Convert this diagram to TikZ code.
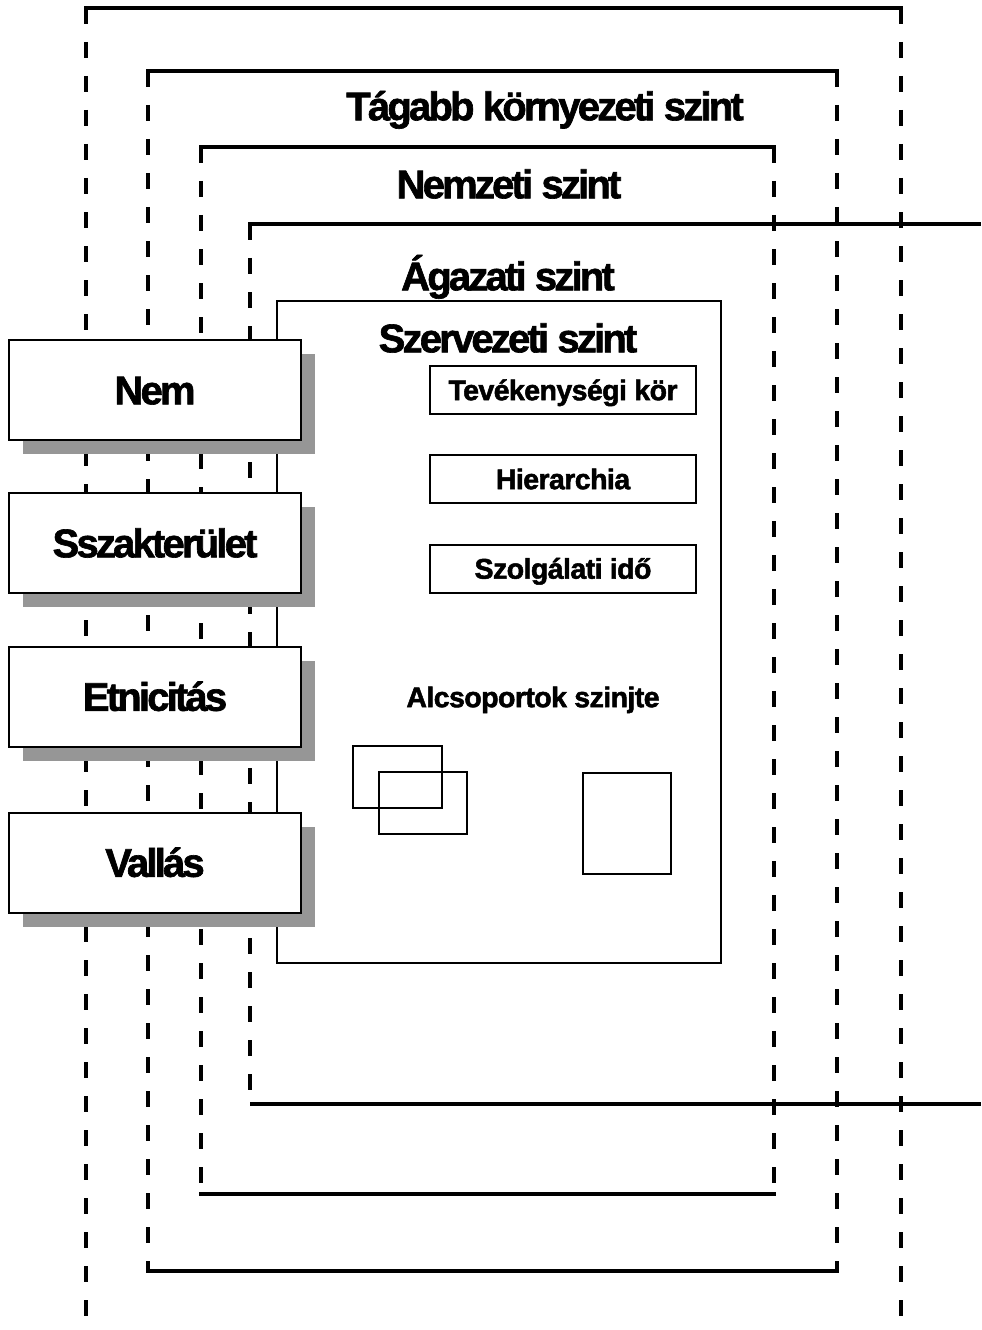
\documentclass[tikz,border=0pt]{standalone}
\usepackage{fontspec}
\setmainfont{Liberation Sans}[LetterSpace=-2, BoldFeatures={FakeBold=1.8}]
\newfontfamily\tightsans{Liberation Sans}[LetterSpace=-7, BoldFeatures={FakeBold=1.6}]
\usetikzlibrary{shadows}
\definecolor{shade}{RGB}{150,150,150}

\begin{document}
\begin{tikzpicture}[x=1bp,y=-1bp,
  solidrule/.style={line width=3.5bp},
  dashrule/.style={line width=4bp, dash pattern=on 16bp off 18bp},
  bigtext/.style={font=\tightsans\bfseries\fontsize{40bp}{48bp}\selectfont,
    text height=28.6bp, text depth=0pt, inner sep=0pt},
  smalltext/.style={font=\bfseries\fontsize{28.5bp}{34bp}\selectfont,
    text height=20.4bp, text depth=0pt, inner sep=0pt},
  sidebox/.style={bigtext, draw, line width=2bp, fill=white,
    minimum width=292bp, minimum height=100bp,
    drop shadow={shadow xshift=14bp, shadow yshift=-14bp, fill=shade, opacity=1}},
  factorbox/.style={smalltext, draw, line width=2bp, fill=white,
    minimum width=266bp, minimum height=48bp},
  groupbox/.style={line width=2bp}]

\useasboundingbox (0,0) rectangle (981,1330);

% outermost level
\draw[solidrule] (84,8) -- (903,8);
\draw[dashrule] (86,8) -- (86,1330);
\draw[dashrule] (901,8) -- (901,1330);

% wider environment level
\draw[solidrule] (146,71) -- (839,71);
\draw[solidrule] (146,1271) -- (839,1271);
\draw[dashrule] (148,71) -- (148,1271);
\draw[dashrule] (837,71) -- (837,1271);

% national level
\draw[solidrule] (199,147) -- (776,147);
\draw[solidrule] (199,1194) -- (776,1194);
\draw[dashrule] (201,147) -- (201,1194);
\draw[dashrule] (774,147) -- (774,1194);

% sector level
\draw[solidrule] (248,224) -- (981,224);
\draw[solidrule] (250,1104) -- (981,1104);
\draw[dashrule] (250,224) -- (250,1104);

% organisational level
\draw[line width=2bp] (277,301) rectangle (721,963);

% level titles
\node[bigtext] (tagabb) at (545,106) {Tágabb környezeti szint};
\node[bigtext] (nemzeti) at (509,184) {Nemzeti szint};
\node[bigtext] (agazati) at (508,276) {Ágazati szint};
\node[bigtext] (szervezeti) at (508,338) {Szervezeti szint};

% organisational factors
\node[factorbox] (tevek) at (563,390) {Tevékenységi kör};
\node[factorbox] (hier) at (563,479) {Hierarchia};
\node[factorbox] (szolg) at (563,568.5) {Szolgálati idő};

% subgroups
\node[smalltext] (alcs) at (533,697) {Alcsoportok szinjte};
\draw[groupbox] (353,746) rectangle (442,808);
\draw[groupbox] (379,772) rectangle (467,834);
\draw[groupbox] (583,773) rectangle (671,874);

% individual characteristics
\node[sidebox] (nem) at (155,390) {Nem};
\node[sidebox] (szak) at (155,543) {Sszakterület};
\node[sidebox] (etn) at (155,696.5) {Etnicitás};
\node[sidebox] (vall) at (155,862.5) {Vallás};

\end{tikzpicture}
\end{document}
